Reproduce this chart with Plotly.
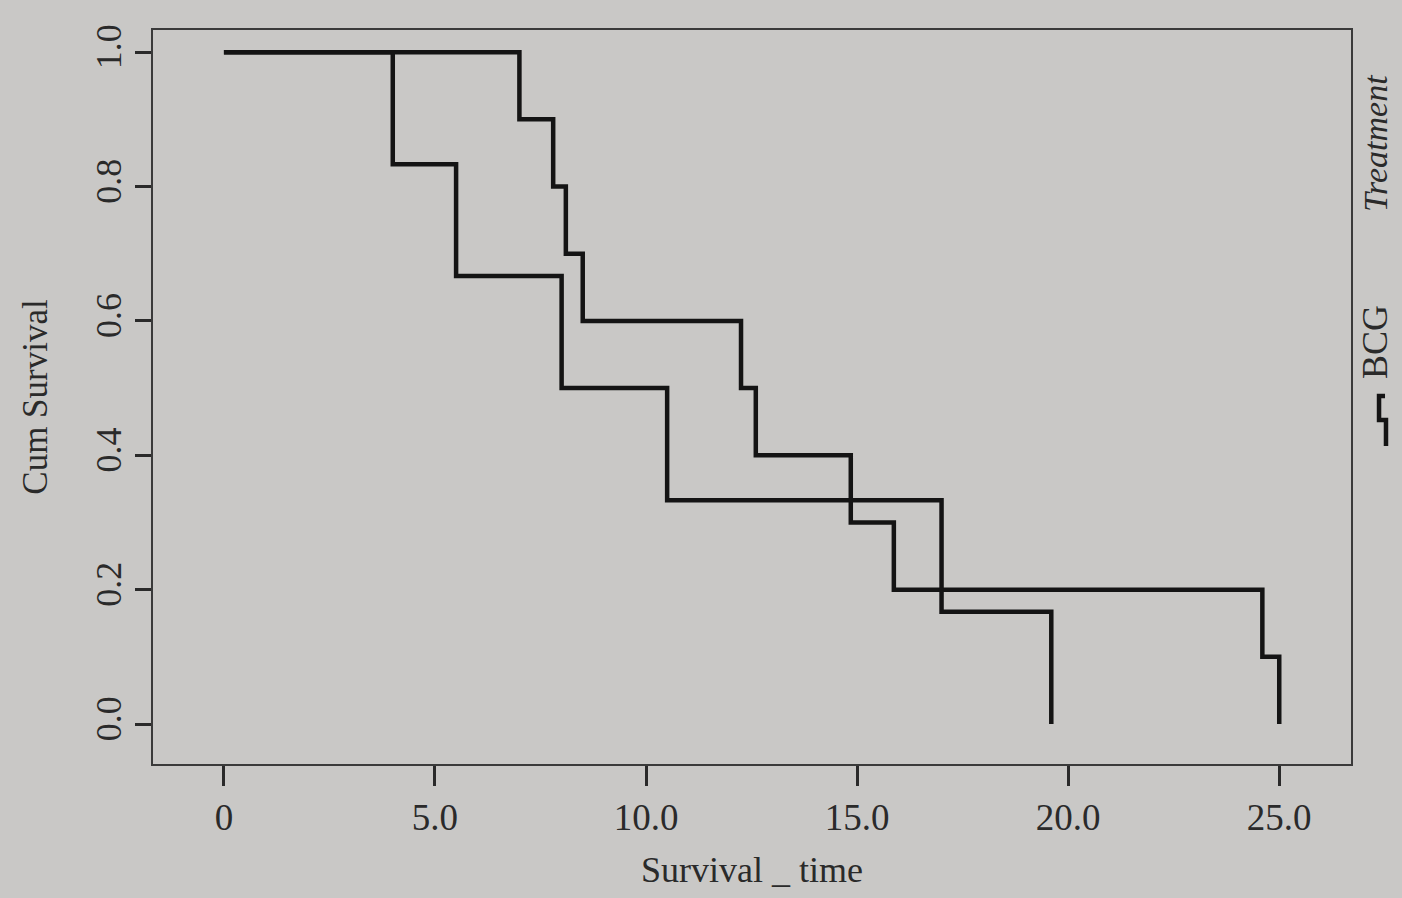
import plotly.graph_objects as go

# ---- data ----
group_names = ["BCG", "Group 2"]
time_a = [0, 4.0, 5.5, 8.0, 10.5, 17.0, 19.6]
surv_a = [1.0, 0.833, 0.667, 0.5, 0.333, 0.167, 0.0]
time_b = [0, 7.0, 7.8, 8.1, 8.5, 12.25, 12.6, 14.85, 15.87, 24.6, 25.0]
surv_b = [1.0, 0.9, 0.8, 0.7, 0.6, 0.5, 0.4, 0.3, 0.2, 0.1, 0.0]
x_tickvals = [0, 5, 10, 15, 20, 25]
x_ticktext = ["0", "5.0", "10.0", "15.0", "20.0", "25.0"]
y_tickvals = [0.0, 0.2, 0.4, 0.6, 0.8, 1.0]
y_ticktext = ["0.0", "0.2", "0.4", "0.6", "0.8", "1.0"]

OFF = 8  # page body margin
W, H = 1402 - 2 * OFF, 898 - 2 * OFF
ML, MT = 153 - OFF, 30 - OFF
MR = W - (1351 - OFF)
MB = H - (764 - OFF)
PW, PH = W - ML - MR, H - MT - MB
FONT = "Liberation Serif"
INK = "#141414"
TXT = "#2a2a2a"
BG = "#c9c8c6"

def px(x):
    return (x - OFF - ML) / PW

def py(y):
    return (H - MB - (y - OFF)) / PH

fig = go.Figure()
fig.add_trace(go.Scatter(x=time_b, y=surv_b, mode="lines", line=dict(shape="hv", color=INK, width=4.5),
                         name=group_names[0], showlegend=False))
fig.add_trace(go.Scatter(x=time_a, y=surv_a, mode="lines", line=dict(shape="hv", color=INK, width=4.5),
                         name=group_names[1], showlegend=False))

fig.update_layout(
    width=W, height=H,
    margin=dict(l=ML, r=MR, t=MT, b=MB, autoexpand=False),
    paper_bgcolor=BG, plot_bgcolor=BG,
    font=dict(family=FONT, size=36, color=TXT),
    xaxis=dict(range=[-1.68, 26.7], tickvals=x_tickvals, ticktext=x_ticktext, automargin=False,
               showgrid=False, zeroline=False, showline=True, linecolor="#3a3a3a", linewidth=1.5,
               mirror=True, ticks="outside", ticklen=20, tickwidth=2.5, tickcolor=TXT,
               tickfont=dict(size=37), ticklabelstandoff=0,
               title=dict(text="Survival _ time", font=dict(size=36), standoff=39)),
    yaxis=dict(range=[-0.0595, 1.033], tickvals=y_tickvals, ticktext=y_ticktext, tickangle=-90,
               automargin=False,
               showgrid=False, zeroline=False, showline=True, linecolor="#3a3a3a", linewidth=1.5,
               mirror=True, ticks="outside", ticklen=16, tickwidth=2.5, tickcolor=TXT,
               tickfont=dict(size=36), ticklabelstandoff=0,
               title=dict(text="Cum Survival", font=dict(size=35), standoff=31)),
)

# legend drawn as rotated text, as in the picture
fig.add_annotation(xref="paper", yref="paper", x=px(1375), y=py(143), text="<i>Treatment</i>",
                   textangle=-90, showarrow=False, font=dict(size=34, family=FONT, color=TXT),
                   xanchor="center", yanchor="middle")
fig.add_annotation(xref="paper", yref="paper", x=px(1375), y=py(342), text=group_names[0],
                   textangle=-90, showarrow=False, font=dict(size=36, family=FONT, color=TXT),
                   xanchor="center", yanchor="middle")
sym = [(1386, 446), (1386, 420), (1379, 420), (1379, 396), (1385, 396)]
path = "M " + " L ".join(f"{px(a):.4f},{py(b):.4f}" for a, b in sym)
fig.add_shape(type="path", xref="paper", yref="paper", path=path,
              line=dict(color=INK, width=4.5))

fig.write_html("out.html", post_script=f"document.body.style.background='{BG}';"
                                        f"document.documentElement.style.background='{BG}';")
